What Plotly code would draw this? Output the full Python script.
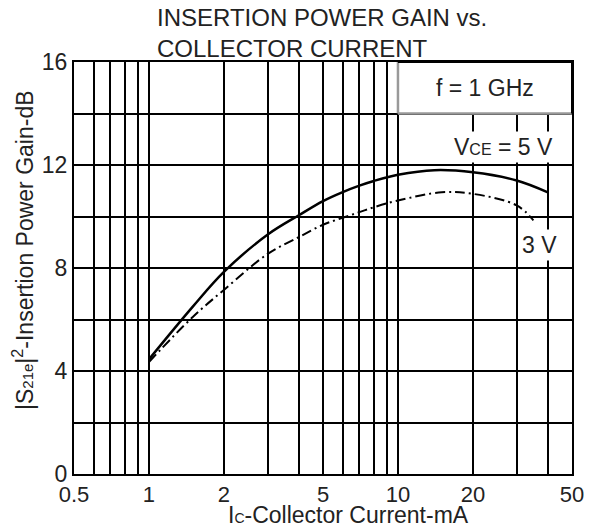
import plotly.graph_objects as go
import math

# Data
ic_5v = [1, 1.5, 2, 3, 4, 5, 6, 7, 8, 10, 14, 20, 30, 40]
gain_5v = [4.45, 6.5, 7.85, 9.3, 10.05, 10.6, 10.95, 11.2, 11.38, 11.62, 11.8, 11.72, 11.4, 10.94]
ic_3v = [1, 1.5, 2, 3, 4, 5, 6, 7, 8, 10, 15, 20, 30, 35]
gain_3v = [4.35, 6.1, 7.15, 8.55, 9.2, 9.68, 9.95, 10.17, 10.36, 10.62, 10.94, 10.88, 10.43, 9.85]

x_grid = [0.5, 0.6, 0.7, 0.8, 0.9, 1, 2, 3, 4, 5, 6, 7, 8, 9, 10, 20, 30, 40, 50]
x_labels = {0.5: "0.5", 1: "1", 2: "2", 5: "5", 10: "10", 20: "20", 50: "50"}
y_grid = [0, 2, 4, 6, 8, 10, 12, 14, 16]
y_labels = {0: "0", 4: "4", 8: "8", 12: "12", 16: "16"}

FONT = "Liberation Sans, Arial, sans-serif"
TXT = "#222222"
L, R, T, B = 74, 25, 62, 54
PW, PH = 597 - L - R, 528 - T - B

fig = go.Figure()
fig.add_trace(go.Scatter(x=ic_5v, y=gain_5v, mode="lines", line=dict(color="black", width=2.5, shape="spline"),
                         showlegend=False, hoverinfo="skip"))
fig.add_trace(go.Scatter(x=ic_3v, y=gain_3v, mode="lines",
                         line=dict(color="black", width=2, shape="spline", dash="10px,4px,2px,4px"),
                         showlegend=False, hoverinfo="skip"))

fig.update_xaxes(type="log", range=[math.log10(0.5), math.log10(50)],
                 tickvals=x_grid, ticktext=[x_labels.get(v, "") for v in x_grid],
                 showgrid=True, gridcolor="black", gridwidth=2,
                 showline=True, linecolor="black", linewidth=2, mirror=True,
                 ticks="", tickfont=dict(family=FONT, size=22, color=TXT), zeroline=False)
fig.update_yaxes(range=[0, 16], tickvals=y_grid, ticktext=[y_labels.get(v, "") for v in y_grid],
                 showgrid=True, gridcolor="black", gridwidth=2,
                 showline=True, linecolor="black", linewidth=2, mirror=True,
                 ticks="", tickfont=dict(family=FONT, size=23, color=TXT), zeroline=False)

# f = 1 GHz box
fig.add_shape(type="rect", x0=10, x1=50, y0=14, y1=16, xref="x", yref="y",
              fillcolor="white", line=dict(width=0), layer="above")
fig.add_shape(type="line", x0=10, x1=10, y0=14, y1=16, line=dict(color="#999999", width=2.5), layer="above")
fig.add_shape(type="line", x0=10, x1=50, y0=14, y1=14, line=dict(color="#999999", width=2.5), layer="above")
fig.add_shape(type="line", x0=10, x1=50, y0=16, y1=16, line=dict(color="black", width=2), layer="above")
fig.add_shape(type="line", x0=50, x1=50, y0=14, y1=16, line=dict(color="black", width=2), layer="above")

fig.add_annotation(x=math.log10(22.4), y=15, xref="x", yref="y", text="f = 1 GHz", showarrow=False,
                   font=dict(family=FONT, size=23, color=TXT))
fig.add_annotation(x=math.log10(26.5), y=12.7, xref="x", yref="y",
                   text="V<span style='font-size:16px'>CE</span> = 5 V", showarrow=False,
                   font=dict(family=FONT, size=23, color=TXT), bgcolor="white", borderpad=2)
fig.add_annotation(x=math.log10(37), y=8.9, xref="x", yref="y", text="3 V", showarrow=False,
                   font=dict(family=FONT, size=23, color=TXT), bgcolor="white", borderpad=2)

# Title
fig.add_annotation(x=(155 - L) / PW, y=1 + (T - 2) / PH, xref="paper", yref="paper",
                   xanchor="left", yanchor="top", align="left", showarrow=False,
                   text="INSERTION POWER GAIN vs.<br>COLLECTOR CURRENT",
                   font=dict(family=FONT, size=24, color=TXT))

# Axis titles
fig.add_annotation(x=(348 - L) / PW, y=-(515 - (528 - B)) / PH, xref="paper", yref="paper",
                   xanchor="center", yanchor="middle", showarrow=False,
                   text="I<span style='font-size:14px'>C</span>-Collector Current-mA",
                   font=dict(family=FONT, size=23, color=TXT))
fig.add_annotation(x=(23 - L) / PW, y=((528 - B) - 250) / PH, xref="paper", yref="paper",
                   xanchor="center", yanchor="middle", showarrow=False, textangle=-90,
                   text="|S<span style='font-size:15px'>21e</span>|<sup>2</sup>-Insertion Power Gain-dB",
                   font=dict(family=FONT, size=23, color=TXT))

fig.update_layout(width=597, height=528, margin=dict(l=L, r=R, t=T, b=B),
                  paper_bgcolor="white", plot_bgcolor="white", hovermode=False)

fig.write_html("out.html", config={"displayModeBar": False},
               post_script="document.body.style.margin='0';document.body.style.overflow='hidden';")
